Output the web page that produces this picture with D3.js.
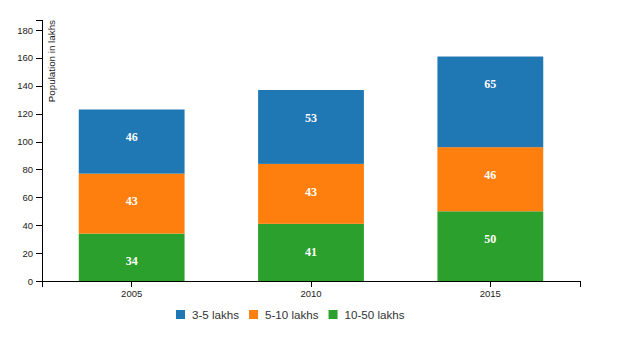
<!DOCTYPE html>
<html>
<head>
<meta charset="utf-8">
<script src="https://cdn.jsdelivr.net/npm/d3@7"></script>
<style>
  body { margin: 0; background: #fff; }
  svg { display: block; }
  .axis text { font-family: "Liberation Sans", Arial, sans-serif; font-size: 9.5px; fill: #222; }
  .axis path, .axis line { stroke: #000; shape-rendering: crispEdges; }
</style>
</head>
<body>
<svg id="chart" width="635" height="347"></svg>
<script>
const years = ["2005", "2010", "2015"];
const seriesNames = ["3-5 lakhs", "5-10 lakhs", "10-50 lakhs"];
const colors = ["#1f77b4", "#ff7f0e", "#2ca02c"];
const small = [46, 53, 65];    // 3-5 lakhs
const medium = [43, 43, 46];   // 5-10 lakhs
const large = [34, 41, 50];    // 10-50 lakhs
const yTicks = [0, 20, 40, 60, 80, 100, 120, 140, 160, 180];

const keys = ["large", "medium", "small"];
const keyName = { small: seriesNames[0], medium: seriesNames[1], large: seriesNames[2] };
const keyColor = { small: colors[0], medium: colors[1], large: colors[2] };
const table = years.map((y, i) => ({ year: y, small: small[i], medium: medium[i], large: large[i] }));

const margin = { top: 20, right: 55, bottom: 66, left: 42 };
const W = 635, H = 347;
const w = W - margin.left - margin.right;
const h = H - margin.top - margin.bottom;

const svg = d3.select("#chart");
const g = svg.append("g").attr("transform", `translate(${margin.left},${margin.top})`);

const x = d3.scaleBand().domain(years).range([0, w]).paddingInner(0.41).paddingOuter(0.205);
const y = d3.scaleLinear().domain([0, 187.2]).range([h, 0]);

const stack = d3.stack().keys(keys);
const layers = stack(table);

const layer = g.selectAll(".layer").data(layers).enter().append("g")
  .attr("fill", d => keyColor[d.key]);

layer.selectAll("rect").data(d => d).enter().append("rect")
  .attr("x", d => x(d.data.year))
  .attr("width", x.bandwidth())
  .attr("y", d => y(d[1]))
  .attr("height", d => y(d[0]) - y(d[1]));

layer.selectAll("text").data(d => d.map(v => ({ v, key: d.key }))).enter().append("text")
  .attr("x", d => x(d.v.data.year) + x.bandwidth() / 2)
  .attr("y", d => y(d.v[1]) + 27.5)
  .attr("dy", "0.35em")
  .attr("text-anchor", "middle")
  .attr("fill", "#fff")
  .style("font-family", "'Liberation Serif', 'DejaVu Serif', serif")
  .style("font-weight", "bold")
  .style("font-size", "12px")
  .text(d => d.v.data[d.key]);

g.append("g").attr("class", "axis")
  .attr("transform", `translate(0,${h})`)
  .call(d3.axisBottom(x));

const yAxis = g.append("g").attr("class", "axis")
  .call(d3.axisLeft(y).tickValues(yTicks));

yAxis.append("text")
  .attr("transform", "rotate(-90)")
  .attr("y", 6)
  .attr("dy", ".71em")
  .style("text-anchor", "end")
  .style("font-size", "9.8px")
  .attr("fill", "#222")
  .text("Population in lakhs");

// legend
const legend = svg.append("g").attr("transform", "translate(176,310)");
let cx = 0;
seriesNames.forEach((name, i) => {
  const item = legend.append("g").attr("transform", `translate(${cx},0)`);
  item.append("rect").attr("width", 9).attr("height", 9).attr("fill", colors[i]);
  const t = item.append("text")
    .attr("x", 16)
    .attr("y", 9)
    .style("font-family", "'Liberation Sans', Arial, sans-serif")
    .style("font-size", "11.6px")
    .attr("fill", "#333")
    .text(name);
  cx += 16 + t.node().getComputedTextLength() + 10;
});
</script>
</body>
</html>
